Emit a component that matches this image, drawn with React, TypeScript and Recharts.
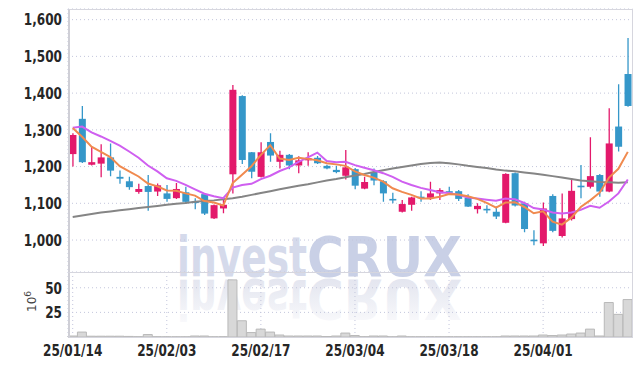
import React from 'react';
import { ComposedChart, Bar, Line, XAxis, YAxis, CartesianGrid } from 'recharts';

// trading days, yy/mm/dd
const dates = [
  '25/01/14', '25/01/15', '25/01/16', '25/01/17', '25/01/20', '25/01/21', '25/01/22', '25/01/23', '25/01/24', '25/01/31',
  '25/02/03', '25/02/04', '25/02/05', '25/02/06', '25/02/07', '25/02/10', '25/02/11', '25/02/12', '25/02/13', '25/02/14',
  '25/02/17', '25/02/18', '25/02/19', '25/02/20', '25/02/21', '25/02/24', '25/02/25', '25/02/26', '25/02/27', '25/02/28',
  '25/03/04', '25/03/05', '25/03/06', '25/03/07', '25/03/10', '25/03/11', '25/03/12', '25/03/13', '25/03/14', '25/03/17',
  '25/03/18', '25/03/19', '25/03/20', '25/03/21', '25/03/24', '25/03/25', '25/03/26', '25/03/27', '25/03/28', '25/03/31',
  '25/04/01', '25/04/02', '25/04/03', '25/04/04', '25/04/07', '25/04/08', '25/04/09', '25/04/10', '25/04/11', '25/04/14',
];

const opens = [
  1234, 1330, 1205, 1208, 1225, 1172, 1160, 1131, 1147, 1132,
  1127, 1114, 1130, 1105, 1125, 1059, 1086, 1179, 1392, 1239,
  1172, 1267, 1213, 1232, 1203, 1217, 1224, 1202, 1191, 1175,
  1193, 1140, 1185, 1160, 1112, 1077, 1096, 1118, 1115, 1127,
  1133, 1133, 1115, 1084, 1085, 1077, 1047, 1182, 1100, 1001,
  991, 1120, 1011, 1057, 1148, 1145, 1177, 1132, 1309, 1452,
];
const highs = [
  1291, 1365, 1253, 1261, 1263, 1189, 1172, 1153, 1177, 1154,
  1150, 1155, 1145, 1114, 1127, 1097, 1109, 1422, 1394, 1240,
  1266, 1291, 1243, 1234, 1228, 1239, 1229, 1205, 1202, 1245,
  1196, 1172, 1195, 1163, 1129, 1109, 1118, 1133, 1159, 1141,
  1145, 1136, 1125, 1100, 1095, 1091, 1182, 1184, 1104, 1027,
  1102, 1125, 1127, 1168, 1204, 1280, 1180, 1359, 1424, 1550,
];
const lows = [
  1200, 1210, 1203, 1171, 1174, 1153, 1137, 1126, 1080, 1120,
  1104, 1112, 1098, 1084, 1068, 1057, 1073, 1127, 1207, 1168,
  1170, 1213, 1195, 1193, 1182, 1202, 1207, 1193, 1182, 1165,
  1138, 1138, 1149, 1104, 1100, 1075, 1080, 1104, 1109, 1109,
  1127, 1106, 1090, 1072, 1073, 1057, 1046, 1091, 1021, 986,
  984, 1021, 1007, 1053, 1114, 1140, 1118, 1130, 1241, 1363,
];
const closes = [
  1286, 1212, 1212, 1225, 1189, 1167, 1144, 1139, 1131, 1149,
  1112, 1139, 1104, 1102, 1072, 1095, 1096, 1409, 1218, 1186,
  1239, 1230, 1232, 1203, 1217, 1223, 1209, 1195, 1185, 1198,
  1148, 1158, 1162, 1127, 1110, 1098, 1116, 1115, 1127, 1136,
  1129, 1112, 1091, 1093, 1082, 1064, 1180, 1094, 1030, 999,
  1086, 1025, 1059, 1134, 1146, 1174, 1132, 1263, 1254, 1365,
];

// volume, millions of shares
const volumes = [
  1, 5, 0.8, 0.8, 0.8, 0.8, 0.6, 0.3, 2.5, 0.3,
  0.2, 0.2, 0.2, 1, 1, 0.2, 0.3, 58, 16.5, 4.5,
  8, 5, 2, 1, 1, 1, 1, 0.5, 1, 4,
  1.5, 0.3, 1, 1, 0.2, 1, 0.2, 0.2, 0.2, 0.2,
  0.2, 0.2, 0.2, 0.2, 0.2, 0.2, 1, 1, 1, 1,
  2, 1.5, 2, 3, 4, 8, 1, 35, 23, 38,
];

const ma5 = [
  1305, 1281, 1254, 1240, 1226, 1201, 1187, 1173, 1154, 1146,
  1135, 1134, 1127, 1121, 1106, 1102, 1094, 1155, 1178, 1201,
  1232, 1258, 1222, 1218, 1224, 1221, 1217, 1209, 1206, 1202,
  1187, 1177, 1170, 1159, 1141, 1131, 1123, 1113, 1113, 1118,
  1125, 1124, 1119, 1112, 1101, 1088, 1102, 1103, 1090, 1073,
  1078, 1050, 1042, 1061, 1090, 1108, 1129, 1170, 1194, 1240,
];
const ma10 = [
  1306, 1309, 1293, 1282, 1270, 1257, 1241, 1224, 1203, 1187,
  1168, 1161, 1150, 1138, 1126, 1119, 1114, 1143, 1150, 1153,
  1166, 1175, 1188, 1198, 1213, 1225, 1238, 1215, 1212, 1213,
  1204, 1197, 1190, 1182, 1172, 1159, 1150, 1142, 1136, 1130,
  1128, 1123, 1116, 1113, 1110, 1107, 1113, 1111, 1101, 1087,
  1083, 1075, 1072, 1075, 1082, 1093, 1088, 1105, 1127, 1165,
];
const ma60 = [
  1063, 1067, 1071, 1075, 1078, 1081, 1084, 1087, 1090, 1093,
  1096, 1099, 1101, 1104, 1106, 1108, 1111, 1114, 1118, 1123,
  1128, 1133, 1138, 1143, 1148, 1152, 1157, 1162, 1166, 1171,
  1176, 1180, 1185, 1190, 1195, 1199, 1203, 1207, 1210, 1211,
  1209, 1206, 1202, 1199, 1196, 1192, 1189, 1187, 1184, 1181,
  1178, 1174, 1170, 1166, 1162, 1160, 1158, 1157, 1156, 1157,
];

const priceTicks = [1000, 1100, 1200, 1300, 1400, 1500, 1600];
const volumeTicks = [25, 50];

const rows = dates.map((date, i) => ({
  date,
  open: opens[i],
  high: highs[i],
  low: lows[i],
  close: closes[i],
  vol: volumes[i],
  ma5: ma5[i],
  ma10: ma10[i],
  ma60: ma60[i],
}));

const RED = '#e3196b';
const BLUE = '#3597c9';
const AXIS_FONT = '"Liberation Sans Narrow", "DejaVu Sans Condensed", sans-serif';
const GRID = '#c3c6dc';

// tall, narrow tick text like the original's condensed face
const NarrowTick = (props: any) => {
  const { x, y, payload, textAnchor, dy, format } = props;
  const label = format ? format(payload.value) : payload.value;
  return (
    <text
      x={x}
      y={y}
      dy={dy}
      textAnchor={textAnchor}
      transform={`translate(${x},0) scale(0.84,1) translate(${-x},0)`}
      fontFamily={AXIS_FONT}
      fontSize={16}
      fontWeight={700}
      fill="#262626"
    >
      {label}
    </text>
  );
};

const Candle = (props: any) => {
  const { x, y, width, height, payload } = props;
  if (!payload) return null;
  const { open, close, high, low } = payload;
  const top = Math.min(y, y + height);
  const h = Math.abs(height);
  const py = (v: number) => top + ((high - v) / (high - low || 1)) * h;
  const color = close >= open ? RED : BLUE;
  const cx = x + width / 2;
  const bodyTop = py(Math.max(open, close));
  const bodyBot = py(Math.min(open, close));
  const bw = 7;
  return (
    <g>
      <line x1={cx} x2={cx} y1={top} y2={top + h} stroke={color} strokeWidth={1.3} />
      <rect x={cx - bw / 2} y={bodyTop} width={bw} height={Math.max(1.6, bodyBot - bodyTop)} fill={color} />
    </g>
  );
};

const fmt = (v: number) => v.toLocaleString('en-US');

function Watermark() {
  return (
    <svg width={642} height={366} style={{ position: 'absolute', left: 0, top: 0 }}>
      <defs>
        <linearGradient id="fade" gradientUnits="userSpaceOnUse" x1="0" y1="278" x2="0" y2="234">
          <stop offset="0" stopColor="#e3e5ef" stopOpacity={1} />
          <stop offset="1" stopColor="#e3e5ef" stopOpacity={0.25} />
        </linearGradient>
      </defs>
      <g fontFamily="'DejaVu Sans', sans-serif" fontWeight={700} fontSize={56}>
        <text x={177} y={276} textLength={130} lengthAdjust="spacingAndGlyphs" fill="#d5daeb">invest</text>
        <text x={307} y={276} textLength={155} lengthAdjust="spacingAndGlyphs" fill="#c9d0e6">CRUX</text>
        <g transform="translate(0,556) scale(1,-1)">
          <text x={177} y={276} textLength={130} lengthAdjust="spacingAndGlyphs" fill="url(#fade)">invest</text>
          <text x={307} y={276} textLength={155} lengthAdjust="spacingAndGlyphs" fill="url(#fade)">CRUX</text>
        </g>
      </g>
      <text transform="translate(36,312) rotate(-90)" fontFamily="'DejaVu Sans', sans-serif" fontSize={12} fill="#444">
        10<tspan dy={-5} fontSize={9}>6</tspan>
      </text>
    </svg>
  );
}

export default function App() {
  return (
    <div style={{ position: 'absolute', left: 0, top: 0, width: 642, height: 366, background: '#fff' }}>
      <Watermark />
      <div style={{ position: 'absolute', left: 0, top: 0 }}>
        <ComposedChart width={642} height={272} data={rows} margin={{ top: 9, right: 9.5, bottom: 0, left: 0 }}>
          <CartesianGrid stroke={GRID} strokeDasharray="1 3" />
          <XAxis dataKey="date" interval={9} tick={false} tickLine={false} axisLine={false} height={0} />
          <YAxis
            domain={[913, 1629]}
            ticks={priceTicks}
            allowDataOverflow
            width={68}
            tickLine={false}
            axisLine={false}
            tickSize={4}
            tick={<NarrowTick format={fmt} dy="0.36em" />}
          />
          <Bar dataKey={(d: any) => [d.low, d.high]} shape={<Candle />} isAnimationActive={false} />
          <Line dataKey="ma60" stroke="#858585" strokeWidth={2} dot={false} isAnimationActive={false} />
          <Line dataKey="ma10" stroke="#cf5ff0" strokeWidth={2} dot={false} isAnimationActive={false} />
          <Line dataKey="ma5" stroke="#f08a4f" strokeWidth={2} dot={false} isAnimationActive={false} />
        </ComposedChart>
      </div>
      <div style={{ position: 'absolute', left: 0, top: 272 }}>
        <ComposedChart width={642} height={94} data={rows} barCategoryGap={0} margin={{ top: 0, right: 9.5, bottom: 7, left: 0 }}>
          <CartesianGrid stroke={GRID} strokeDasharray="1 3" />
          <XAxis
            dataKey="date"
            interval={9}
            tickLine={false}
            axisLine={false}
            height={22}
            tick={<NarrowTick dy="0.71em" />}
          />
          <YAxis
            domain={[0, 66]}
            ticks={volumeTicks}
            allowDataOverflow
            width={68}
            tickLine={false}
            axisLine={false}
            tickSize={4}
            tick={<NarrowTick dy="0.36em" />}
          />
          <Bar dataKey="vol" fill="#d8d8d8" stroke="#b9b9b9" strokeWidth={1} isAnimationActive={false} />
        </ComposedChart>
      </div>
      <div
        style={{
          position: 'absolute',
          left: 68,
          top: 9,
          width: 565,
          height: 329,
          boxSizing: 'border-box',
          border: '1px solid #d6d6de',
          borderLeft: '2px solid #cfcfd6',
          pointerEvents: 'none',
        }}
      />
      <div style={{ position: 'absolute', left: 68, top: 272, width: 565, height: 1, background: '#d6d6de' }} />
    </div>
  );
}
